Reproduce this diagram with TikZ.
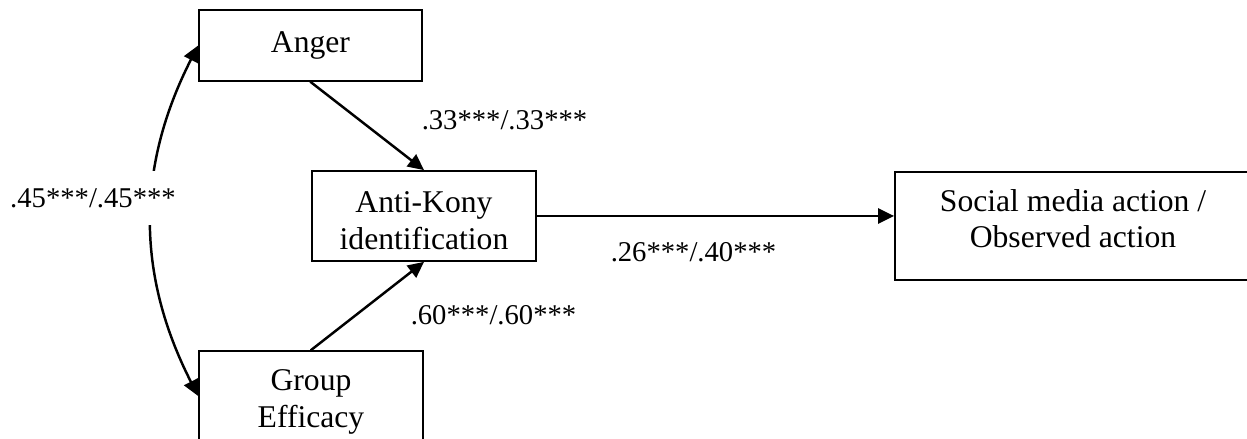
\documentclass[tikz,border=0pt]{standalone}
\usepackage{fontspec}
\setmainfont{Liberation Serif}
\usetikzlibrary{arrows.meta}

\begin{document}
\begin{tikzpicture}[>={Triangle[length=3.2mm,width=3mm]},line cap=round,
  var/.style={draw,line width=1pt,align=center,inner sep=0pt,font=\fontsize{18}{21}\selectfont},
  coef/.style={font=\fontsize{16.3}{19}\selectfont,inner sep=1pt},
  path/.style={->,line width=1.4pt}]
\useasboundingbox (0,0) rectangle (24.94,8.78);
% variables
\node[var,minimum width=4.46cm,minimum height=1.42cm] (anger) at (6.21,7.87) {Anger};
\node[var,minimum width=4.48cm,minimum height=1.80cm] (antikony) at (8.48,4.46) {\rule{0pt}{0.62cm}Anti-Kony\\identification};
\node[var,minimum width=4.48cm,minimum height=1.80cm] (group) at (6.22,0.86) {\rule{0pt}{0.64cm}Group\\Efficacy};
\node[var,minimum width=7.12cm,minimum height=2.16cm] (social) at (21.46,4.26) {Social media action /\\Observed action\rule[-0.3cm]{0pt}{0pt}};
% paths
\draw[path] (anger.south) -- (antikony.north);
\draw[path] (group.north) -- (antikony.south);
\draw[path] (antikony.east) -- (antikony.east -| social.west);
\draw[<->,line width=1.4pt] (anger.west) to[bend right=27] (group.west);
% coefficients
\node[coef,fill=white,minimum height=1.08cm] (c45) at (1.86,4.82) {.45***/.45***};
\node[coef] (c33) at (10.09,6.38) {.33***/.33***};
\node[coef] (c60) at (9.87,2.48) {.60***/.60***};
\node[coef] (c26) at (13.87,3.74) {.26***/.40***};
\end{tikzpicture}
\end{document}
